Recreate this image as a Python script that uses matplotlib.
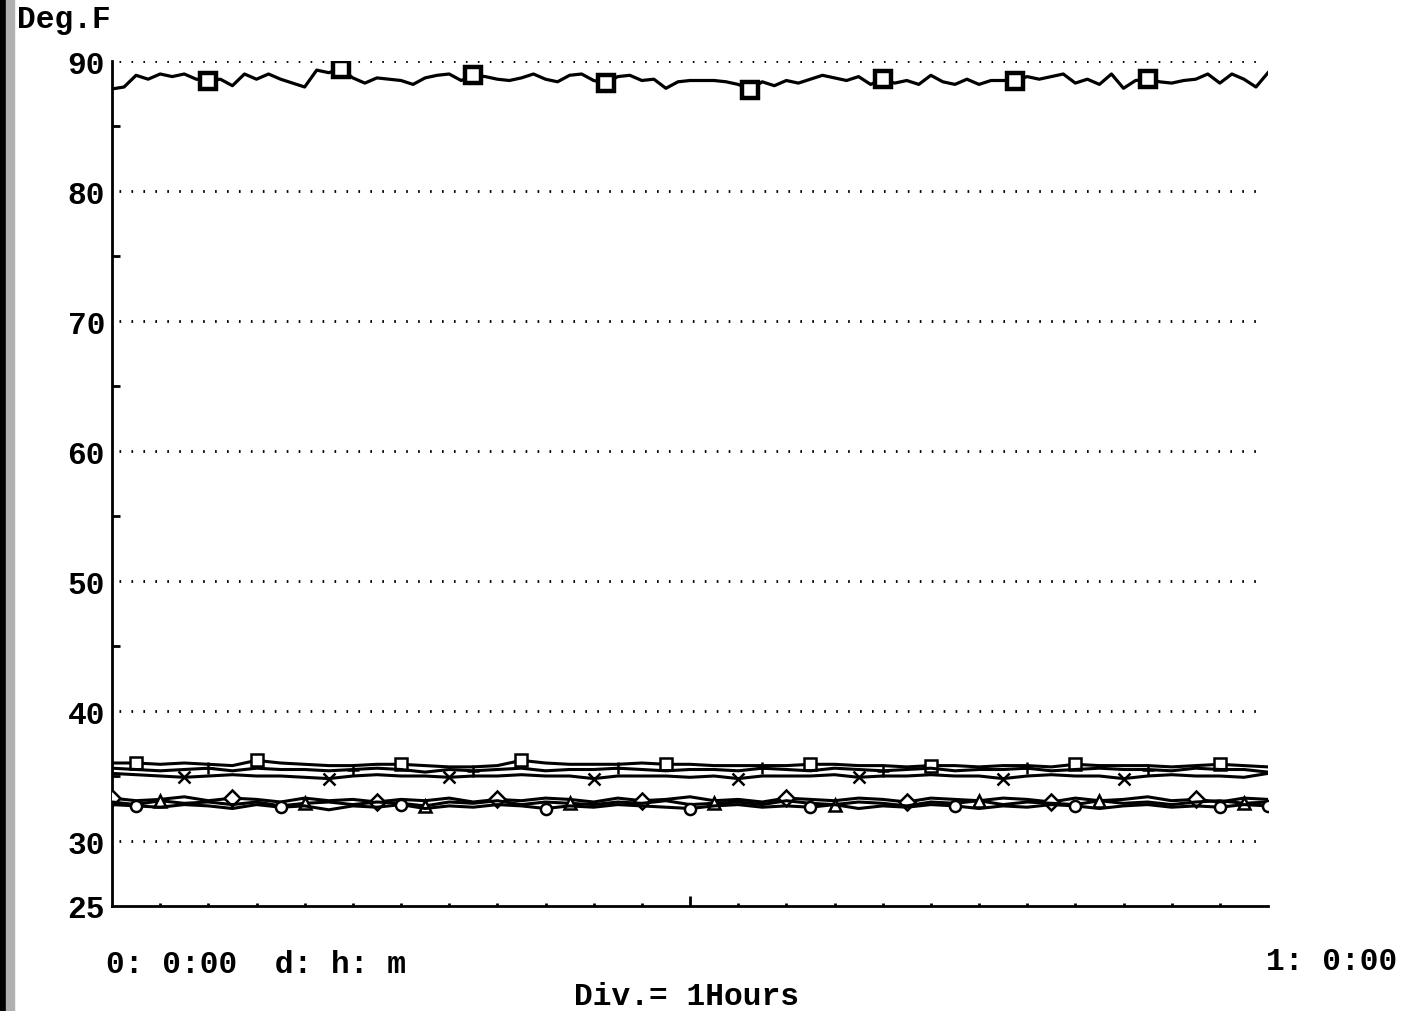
import numpy as np
import matplotlib
matplotlib.use("Agg")
import matplotlib.pyplot as plt
from matplotlib.patches import Rectangle

# top probe, read every 15 minutes
top_vals = [87.85, 88.0, 88.9, 88.6, 89.0, 88.8, 89.0, 88.6, 88.5,
            88.6, 88.1, 89.0, 88.6, 89.0, 88.6, 88.3, 88.0,
            89.3, 89.1, 89.4, 88.7, 88.3, 88.7, 88.6, 88.5,
            88.2, 88.7, 88.9, 89.0, 88.5, 88.9, 88.8, 88.6,
            88.5, 88.7, 89.0, 88.6, 88.4, 88.9, 89.0, 88.5,
            88.3, 88.8, 88.9, 88.5, 88.6, 87.9, 88.4, 88.5,
            88.5, 88.5, 88.4, 88.2, 87.8, 88.4, 88.1, 88.5,
            88.3, 88.6, 88.9, 88.7, 88.5, 88.8, 88.2, 88.6,
            88.3, 88.5, 88.2, 88.9, 88.4, 88.2, 88.6, 88.2,
            88.5, 88.5, 88.5, 88.8, 88.6, 88.8, 89.0, 88.3,
            88.6, 88.2, 89.0, 87.9, 88.5, 88.6, 88.4, 88.3,
            88.5, 88.6, 89.0, 88.3, 89.0, 88.6, 88.0, 89.1]
top_marks = [8, 19, 30, 41, 53, 64, 75, 86]

# lower probes, read every 30 minutes
ser_a = [36.0, 36.0, 35.9, 36.0, 35.9, 35.8, 36.2, 36.0, 35.9, 35.8,
         35.8, 35.9, 35.9, 35.8, 35.7, 35.7, 35.8, 36.2, 36.0, 35.9,
         35.9, 35.9, 36.0, 35.9, 35.9, 35.8, 35.8, 35.8, 35.8, 35.9,
         35.9, 35.8, 35.8, 35.7, 35.8, 35.8, 35.7, 35.8, 35.8, 35.7,
         35.9, 35.8, 35.8, 35.8, 35.7, 35.8, 35.9, 35.8, 35.7]
ser_b = [35.6, 35.5, 35.4, 35.5, 35.6, 35.4, 35.6, 35.5, 35.5, 35.4,
         35.5, 35.6, 35.5, 35.3, 35.5, 35.4, 35.5, 35.6, 35.4, 35.5,
         35.5, 35.6, 35.5, 35.4, 35.5, 35.5, 35.4, 35.6, 35.5, 35.4,
         35.6, 35.5, 35.4, 35.5, 35.6, 35.4, 35.5, 35.5, 35.6, 35.4,
         35.5, 35.6, 35.5, 35.5, 35.4, 35.6, 35.5, 35.5, 35.3]
ser_c = [35.2, 35.1, 35.0, 34.9, 35.0, 35.1, 35.0, 35.0, 34.9, 34.8,
         35.0, 35.1, 35.0, 35.0, 34.9, 35.0, 35.0, 35.1, 35.0, 35.0,
         34.8, 35.0, 35.0, 35.0, 34.9, 35.0, 34.8, 35.0, 35.0, 35.0,
         35.1, 34.9, 35.0, 35.0, 35.1, 35.0, 35.0, 34.8, 35.0, 35.1,
         35.0, 35.0, 34.8, 35.0, 35.1, 35.0, 35.0, 34.9, 35.2]
ser_d = [33.3, 33.1, 33.2, 33.4, 33.1, 33.3, 33.2, 33.0, 33.3, 33.1,
         33.2, 33.0, 33.2, 33.1, 33.3, 33.0, 33.2, 33.1, 33.3, 33.2,
         33.0, 33.3, 33.1, 33.2, 33.4, 33.1, 33.2, 33.0, 33.3, 33.2,
         33.1, 33.3, 33.2, 33.0, 33.3, 33.2, 33.1, 33.3, 33.2, 33.0,
         33.3, 33.1, 33.2, 33.4, 33.1, 33.2, 33.0, 33.3, 33.2]
ser_e = [33.0, 32.8, 33.1, 32.9, 33.0, 32.8, 33.0, 32.7, 32.9, 33.0,
         32.8, 33.0, 32.9, 32.7, 33.0, 32.9, 33.1, 32.8, 33.0, 32.9,
         32.8, 33.0, 32.9, 33.1, 32.8, 32.9, 33.0, 32.8, 33.1, 32.9,
         32.8, 33.0, 32.9, 32.7, 33.0, 32.9, 33.1, 32.8, 33.0, 32.9,
         32.8, 33.1, 32.9, 33.0, 32.8, 33.0, 33.1, 32.9, 33.0]
ser_f = [32.8, 32.7, 32.6, 32.8, 32.7, 32.5, 32.8, 32.6, 32.7, 32.4,
         32.7, 32.6, 32.8, 32.5, 32.7, 32.6, 32.8, 32.7, 32.5, 32.7,
         32.6, 32.8, 32.7, 32.6, 32.5, 32.7, 32.8, 32.6, 32.7, 32.6,
         32.8, 32.5, 32.7, 32.6, 32.8, 32.7, 32.5, 32.7, 32.6, 32.8,
         32.7, 32.5, 32.7, 32.8, 32.6, 32.7, 32.6, 32.8, 32.7]

low_series = [ser_a, ser_b, ser_c, ser_d, ser_e, ser_f]
low_markers = ['s', '+', 'x', 'D', '^', 'o']
low_marks = [[1, 6, 12, 17, 23, 29, 34, 40, 46],
             [4, 10, 15, 21, 27, 32, 38, 43],
             [3, 9, 14, 20, 26, 31, 37, 42],
             [0, 5, 11, 16, 22, 28, 33, 39, 45],
             [2, 8, 13, 19, 25, 30, 36, 41, 47],
             [1, 7, 12, 18, 24, 29, 35, 40, 46, 48]]

y_major = [25, 30, 40, 50, 60, 70, 80, 90]
y_minor = [35, 45, 55, 65, 75, 85]
grid_levels = [30, 40, 50, 60, 70, 80, 90]

mono = 'Liberation Mono'
fs = 22.5
wt = 'bold'

fig = plt.figure(figsize=(14.11, 10.12), dpi=100)
ax = fig.add_axes([112/1411, 1 - 907/1012, 1156/1411, 845/1012])

# dotted reference lines
for g in grid_levels:
    ax.plot([0.15, 23.85], [g, g], color='black', lw=2.0,
            dashes=(0.6, 3.7), zorder=1)

top_hours = np.arange(len(top_vals)) * 0.25
ax.plot(top_hours, top_vals, color='black', lw=2.3, marker='s',
        markevery=top_marks, ms=11, mfc='white', mec='black', mew=3.2, zorder=3)

low_hours = np.arange(len(ser_a)) * 0.5
for vals, mk, idx in zip(low_series, low_markers, low_marks):
    ax.plot(low_hours, vals, color='black', lw=2.2, marker=mk,
            markevery=idx, ms=8, mfc='white', mec='black', mew=1.8, zorder=3)

ax.set_xlim(0, 24)
ax.set_ylim(25, 90)
ax.set_yticks(y_major)
ax.set_yticks(y_minor, minor=True)
ax.set_xticks([12])
ax.set_xticks(np.arange(1, 24), minor=True)
ax.set_xticklabels([])
ax.tick_params(axis='y', which='major', length=0, pad=5,
               labelsize=fs, labelfontfamily=mono)
for lab in ax.get_yticklabels():
    lab.set_fontweight(wt)
ax.tick_params(axis='y', which='minor', direction='in', length=6, width=2)
ax.tick_params(axis='x', which='major', direction='in', length=7, width=2)
ax.tick_params(axis='x', which='minor', direction='in', length=2.5, width=2)

for s in ['top', 'right']:
    ax.spines[s].set_visible(False)
for s in ['left', 'bottom']:
    ax.spines[s].set_linewidth(2.0)

fig.text(17/1411, 1 - 20/1012, 'Deg.F', fontsize=fs, family=mono,
         weight=wt, va='center', ha='left')
fig.text(106/1411, 1 - 965/1012, '0: 0:00  d: h: m', fontsize=fs,
         family=mono, weight=wt, va='center', ha='left')
fig.text(1266/1411, 1 - 962/1012, '1: 0:00', fontsize=fs, family=mono,
         weight=wt, va='center', ha='left')
fig.text(687/1411, 1 - 997/1012, 'Div.= 1Hours', fontsize=fs, family=mono,
         weight=wt, va='center', ha='center')

# scanner edge on the left
fig.patches.append(Rectangle((0, 0), 6/1411, 1, transform=fig.transFigure,
                             color='black', zorder=0))
fig.patches.append(Rectangle((6/1411, 0), 8/1411, 1, transform=fig.transFigure,
                             color='#b0b0b0', zorder=0))

fig.savefig('out.png', dpi=100)
